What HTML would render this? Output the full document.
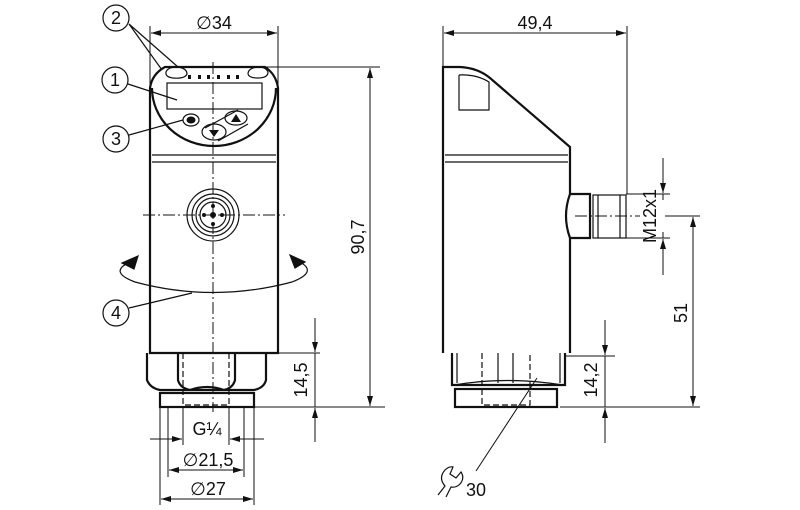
<!DOCTYPE html>
<html><head><meta charset="utf-8"><style>
html,body{margin:0;padding:0;background:#fff;}
svg{display:block;}
text{font-family:"Liberation Sans",sans-serif;fill:#111;}
</style></head><body>
<svg width="800" height="510" viewBox="0 0 800 510" xmlns="http://www.w3.org/2000/svg">
<defs>
<marker id="a" viewBox="0 0 10 6" refX="10" refY="3" markerWidth="16" markerHeight="6" markerUnits="userSpaceOnUse" orient="auto-start-reverse"><path d="M0,0 L10,3 L0,6 z" fill="#111"/></marker>
</defs>
<g stroke="#111" fill="none">
<!-- LEFT VIEW -->
<g stroke-width="2.2">
<path d="M150,353 L150,88 Q152,74 165,67 L265,67 Q276,74 278,88 L278,353 Z"/>
<path d="M152,88 A62,58 0 0 0 276,88"/>
<path d="M147,353 L147,380 Q150,388 160,390 L254,390 Q264,388 266,380 L266,353"/>
<path d="M178,353 L178,380 Q180,388 190,390 M235,353 L235,380 Q233,388 224,390 M190,390 Q207,384 224,390"/>
<rect x="160" y="393" width="94" height="14"/>
</g>
<g stroke-width="1.2">
<line x1="152" y1="155" x2="276" y2="155"/><line x1="152" y1="162" x2="276" y2="162"/>
<rect x="167" y="83" width="95" height="26"/>
<path d="M166,72 Q168,67 177,67 Q187,68 187,74 Q185,79 173,78 Q165,77 166,72"/>
<path d="M248,74 Q248,68 258,67 Q266,67 268,72 Q268,78 258,78 Q249,78 248,74"/>
<ellipse cx="191" cy="120" rx="8" ry="6"/>
<ellipse cx="236" cy="118" rx="11" ry="7"/>
<path d="M205,128 L238,110 M218,141 L248,124"/>
<ellipse cx="214" cy="132" rx="12" ry="8"/>
<circle cx="213" cy="215" r="26"/><circle cx="213" cy="215" r="21"/><circle cx="213" cy="215" r="17"/><circle cx="213" cy="215" r="13"/>
<path d="M183,353 V405 H229 V353" stroke-dasharray="6,3"/>
</g>
<g fill="#111" stroke="none">
<rect x="188" y="75" width="3" height="4"/><rect x="198" y="75" width="3" height="4"/><rect x="207" y="75" width="3" height="4"/><rect x="217" y="75" width="3" height="4"/><rect x="227" y="75" width="3" height="4"/><rect x="236" y="75" width="3" height="4"/>
<ellipse cx="191" cy="120" rx="4.5" ry="3.5"/>
<path d="M231,122 L236,114 L241,122 Z"/><path d="M209,130 L219,130 L214,137 Z"/>
<circle cx="213" cy="215" r="3"/><circle cx="204" cy="215" r="2"/><circle cx="222" cy="215" r="2"/><circle cx="213" cy="206" r="2"/><circle cx="213" cy="224" r="2"/>
</g>
<g stroke-width="1" stroke-dasharray="12,3,2,3">
<line x1="213" y1="62" x2="213" y2="412"/>
<line x1="143" y1="215" x2="285" y2="215"/>
<line x1="575" y1="216" x2="640" y2="216"/>
</g>
<!-- rotation arrow -->
<g stroke-width="1.2">
<path d="M130,262 Q108,272 135,282 Q213,303 292,282 Q318,272 300,262"/>
<path d="M290,255 L305,262 L295,268 Z" fill="#111"/>
<path d="M138,256 L122,263 L134,269 Z" fill="#111"/>
</g>
<!-- callouts -->
<g stroke-width="1.2">
<circle cx="116" cy="18" r="13"/><circle cx="115" cy="80" r="13"/><circle cx="116" cy="139" r="13"/><circle cx="116" cy="313" r="13"/>
<path d="M129,24 L162,70 M129,24 L178,67 M128,84 L177,100 M129,135 L183,120 M129,308 L192,293"/>
</g>
<!-- left dimensions -->
<g stroke-width="1">
<line x1="150" y1="26" x2="150" y2="88"/><line x1="278" y1="26" x2="278" y2="88"/>
<line x1="151" y1="33" x2="277" y2="33" marker-start="url(#a)" marker-end="url(#a)"/>
<line x1="265" y1="67" x2="380" y2="67"/><line x1="254" y1="407" x2="385" y2="407"/>
<line x1="370" y1="68" x2="370" y2="406" marker-start="url(#a)" marker-end="url(#a)"/>
<line x1="278" y1="353" x2="320" y2="353"/>
<line x1="315" y1="318" x2="315" y2="352" marker-end="url(#a)"/>
<line x1="315" y1="442" x2="315" y2="408" marker-end="url(#a)"/>
<line x1="315" y1="353" x2="315" y2="407"/>
<line x1="183" y1="407" x2="183" y2="445"/><line x1="229" y1="407" x2="229" y2="445"/>
<line x1="168" y1="407" x2="168" y2="477"/><line x1="244" y1="407" x2="244" y2="477"/>
<line x1="160" y1="407" x2="160" y2="505"/><line x1="254" y1="407" x2="254" y2="505"/>
<line x1="150" y1="439" x2="182" y2="439" marker-end="url(#a)"/><line x1="264" y1="439" x2="230" y2="439" marker-end="url(#a)"/>
<line x1="169" y1="470" x2="243" y2="470" marker-start="url(#a)" marker-end="url(#a)"/>
<line x1="161" y1="499" x2="253" y2="499" marker-start="url(#a)" marker-end="url(#a)"/>
</g>
<!-- RIGHT VIEW -->
<g stroke-width="2.2">
<path d="M443,353 L443,67 L460,67 Q478,68 490,78 L570,147 L570,194 M570,238 L570,353 Z"/>
<path d="M570,194 L590,194 L590,238 L570,238 Q562,216 570,194"/>
<path d="M452,353 L452,385 L565,385 L565,353"/>
<rect x="455" y="389" width="102" height="18"/>
</g>
<g stroke-width="1.2">
<line x1="445" y1="155" x2="568" y2="155"/><line x1="445" y1="162" x2="568" y2="162"/>
<path d="M459,75 L459,110 L489,110 L489,82 Q476,74 459,75"/>
<rect x="593" y="195" width="33" height="43"/>
<line x1="598" y1="195" x2="598" y2="238"/><line x1="620" y1="195" x2="620" y2="238"/>
<path d="M457,353 V383 M560,353 V383 M498,353 V383 M513,353 V383"/>
<path d="M482,353 V405 H530 V353" stroke-dasharray="6,3"/>
<path d="M454,385 Q507,376 563,385"/>
</g>
<g stroke-width="1">
<line x1="443" y1="26" x2="443" y2="66"/><line x1="627" y1="26" x2="627" y2="194"/>
<line x1="444" y1="33" x2="626" y2="33" marker-start="url(#a)" marker-end="url(#a)"/>
<line x1="626" y1="194" x2="670" y2="194"/><line x1="626" y1="238" x2="670" y2="238"/>
<line x1="663" y1="158" x2="663" y2="193" marker-end="url(#a)"/>
<line x1="663" y1="275" x2="663" y2="239" marker-end="url(#a)"/>
<line x1="663" y1="194" x2="663" y2="200"/><line x1="663" y1="232" x2="663" y2="238"/>
<line x1="665" y1="216" x2="700" y2="216"/>
<line x1="693" y1="217" x2="693" y2="406" marker-start="url(#a)" marker-end="url(#a)"/>
<line x1="560" y1="407" x2="700" y2="407"/>
<line x1="565" y1="356" x2="615" y2="356"/>
<line x1="605" y1="320" x2="605" y2="355" marker-end="url(#a)"/>
<line x1="605" y1="443" x2="605" y2="408" marker-end="url(#a)"/>
<line x1="605" y1="356" x2="605" y2="407"/>
<line x1="537" y1="378" x2="476" y2="471"/>
<path d="M438,495 L445,486 Q438,478 445,470 Q449,466 453,467 L450,474 L456,478 L461,472 Q465,478 460,484 Q456,488 451,487 L446,497" stroke-width="1.2"/>
</g>
</g>
<!-- text -->
<g font-size="18">
<text x="116" y="24" text-anchor="middle">2</text>
<text x="115" y="86" text-anchor="middle">1</text>
<text x="116" y="145" text-anchor="middle">3</text>
<text x="116" y="319" text-anchor="middle">4</text>
<text x="214" y="29" text-anchor="middle">∅34</text>
<text x="535" y="29" text-anchor="middle">49,4</text>
<text transform="translate(364,237) rotate(-90)" text-anchor="middle">90,7</text>
<text transform="translate(307,380) rotate(-90)" text-anchor="middle">14,5</text>
<text transform="translate(597,380) rotate(-90)" text-anchor="middle">14,2</text>
<text transform="translate(656,216) rotate(-90)" text-anchor="middle">M12x1</text>
<text transform="translate(687,313) rotate(-90)" text-anchor="middle">51</text>
<text x="207" y="435" text-anchor="middle">G¼</text>
<text x="208" y="466" text-anchor="middle">∅21,5</text>
<text x="208" y="495" text-anchor="middle">∅27</text>
<text x="466" y="496">30</text>
</g>
</svg>
</body></html>
